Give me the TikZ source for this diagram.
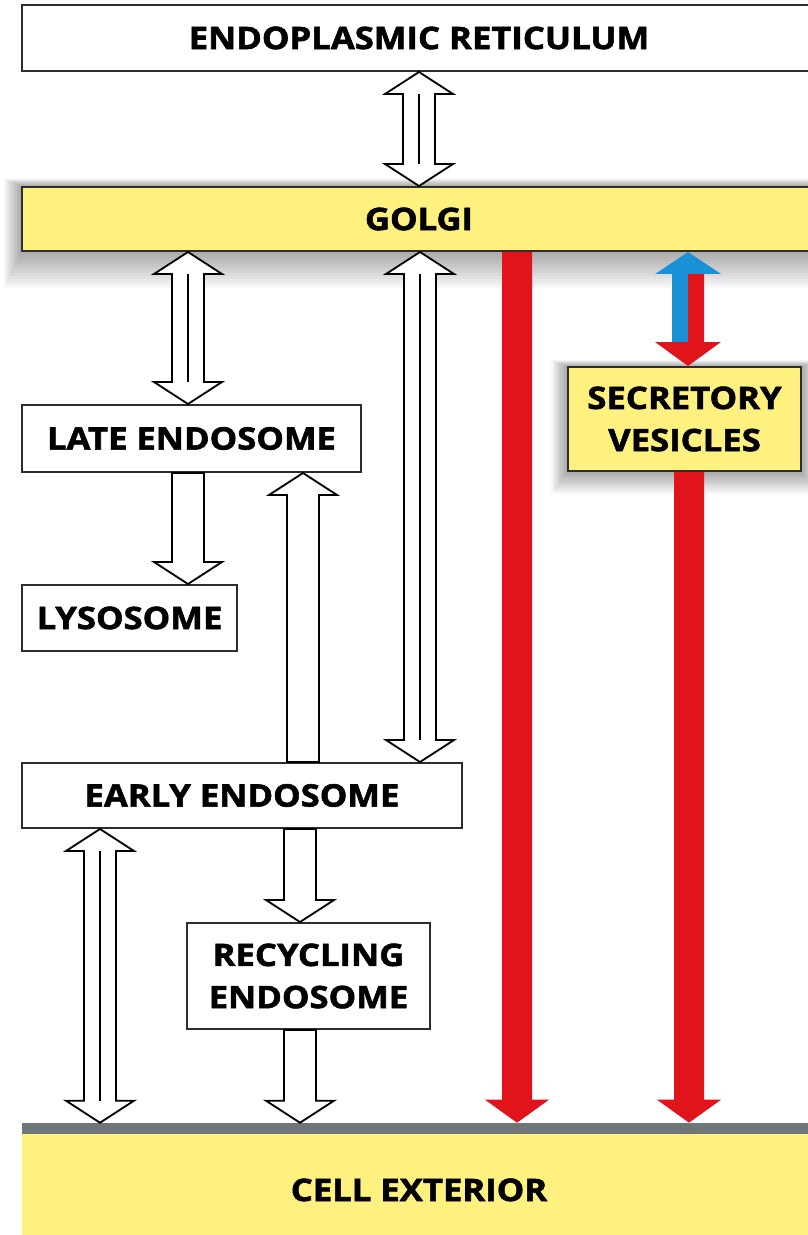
\documentclass[tikz,border=0pt]{standalone}
\usepackage{fontspec}
\setmainfont{Open Sans}[FakeStretch=1.12, BoldFeatures={FakeBold=1.8}]
\usetikzlibrary{positioning, calc, backgrounds}
\definecolor{cellYellow}{RGB}{255, 241, 128}
\definecolor{cellRed}{RGB}{226, 20, 27}
\definecolor{cellBlue}{RGB}{25, 145, 215}
\definecolor{cellGray}{RGB}{110, 118, 120}
\definecolor{cellLine}{RGB}{45, 45, 45}

% hollow block arrows, tip and tail given as coordinates
\newcommand{\blkUp}[2]{%
  \filldraw[hollow] #1 -- ($#1+(34,22)$) -- ($#1+(16,22)$) -- ($#2+(16,0)$)
    -- ($#2+(-16,0)$) -- ($#1+(-16,22)$) -- ($#1+(-34,22)$) -- cycle;}
\newcommand{\blkDown}[2]{%
  \filldraw[hollow] ($#1+(-16,0)$) -- ($#1+(16,0)$) -- ($#2+(16,-22)$)
    -- ($#2+(34,-22)$) -- #2 -- ($#2+(-34,-22)$) -- ($#2+(-16,-22)$) -- cycle;}
\newcommand{\blkBoth}[2]{%
  \filldraw[hollow] #1 -- ($#1+(34,22)$) -- ($#1+(16,22)$) -- ($#2+(16,-22)$)
    -- ($#2+(34,-22)$) -- #2 -- ($#2+(-34,-22)$) -- ($#2+(-16,-22)$)
    -- ($#1+(-16,22)$) -- ($#1+(-34,22)$) -- cycle;
  \draw[hollow] ($#1+(0,22)$) -- ($#2+(0,-22)$);}
% solid red export arrow
\newcommand{\redDown}[2]{%
  \fill[cellRed] ($#1+(-15,0)$) -- ($#1+(15,0)$) -- ($#2+(15,-23)$)
    -- ($#2+(32,-23)$) -- #2 -- ($#2+(-32,-23)$) -- ($#2+(-15,-23)$) -- cycle;}

\begin{document}
\begin{tikzpicture}[x=0.025cm, y=-0.025cm,
    every node/.style={font=\fontsize{22}{30}\selectfont\bfseries},
    box/.style={draw=cellLine, line width=1.4pt, fill=white, align=center, inner sep=0pt},
    ybox/.style={box, fill=cellYellow},
    hollow/.style={draw=black, line width=1.3pt, fill=white, line join=miter}]
  \useasboundingbox (0,0) rectangle (808,1235);

  \node[box,  minimum width=19.85cm, minimum height=1.65cm]  (er)     at (419,38)     {ENDOPLASMIC RETICULUM};
  \node[ybox, minimum width=19.85cm, minimum height=1.6cm]   (golgi)  at (419,219)    {GOLGI};
  \node[box,  minimum width=8.475cm, minimum height=1.675cm] (late)   at (191.5,438.5) {LATE ENDOSOME};
  \node[box,  minimum width=5.375cm, minimum height=1.65cm]  (lyso)   at (129.5,618)  {LYSOSOME};
  \node[box,  minimum width=11cm,    minimum height=1.625cm] (early)  at (242,795.5)  {EARLY ENDOSOME};
  \node[box,  minimum width=6.075cm, minimum height=2.65cm]  (recyc)  at (308.5,976)  {RECYCLING\\ENDOSOME};
  \node[ybox, minimum width=5.825cm, minimum height=2.6cm]   (secret) at (684.5,419)  {SECRETORY\\VESICLES};
  \node[fill=cellGray, inner sep=0pt, minimum width=19.85cm, minimum height=0.275cm] (memb) at (419,1128.5) {};
  \node[fill=cellYellow, inner sep=0pt, minimum width=19.85cm, minimum height=2.55cm] (ext) at (419,1185)
    {\raisebox{-3.5pt}[\height][\depth]{CELL EXTERIOR}};

  % soft shadows
  \begin{scope}[on background layer]
    \foreach \s in {1,...,12} {
      \fill[black, opacity=0.03] ($(golgi.north west)+(-\s*1.4,-\s*0.6)$) rectangle ($(golgi.south east)+(\s*1.4,\s*3)$);
      \fill[black, opacity=0.03] ($(secret.north west)+(-\s*1.3,-\s*0.5)$) rectangle ($(secret.south east)+(\s*1.3,\s*1.8)$);
    }
  \end{scope}

  % membrane traffic
  \blkBoth{(er.south)}{(golgi.north)}
  \blkBoth{(188,0 |- golgi.south)}{(188,0 |- late.north)}
  \blkBoth{(420,0 |- golgi.south)}{(420,0 |- early.north)}
  \blkDown{(188,0 |- late.south)}{(188,0 |- lyso.north)}
  \blkUp{(303,0 |- late.south)}{(303,0 |- early.north)}
  \blkBoth{(100,0 |- early.south)}{(100,0 |- memb.north)}
  \blkDown{(300,0 |- early.south)}{(300,0 |- recyc.north)}
  \blkDown{(300,0 |- recyc.south)}{(300,0 |- memb.north)}

  % secretion
  \redDown{(517,0 |- golgi.south)}{(517,0 |- memb.north)}
  \redDown{(689,0 |- secret.south)}{(689,0 |- memb.north)}
  \fill[cellBlue] (688,0 |- golgi.south) -- ($(688,0 |- golgi.south)+(33,22)$) -- ($(688,0 |- golgi.south)+(0,22)$)
    -- ($(688,0 |- secret.north)+(0,-24)$) -- ($(688,0 |- secret.north)+(-16,-24)$)
    -- ($(688,0 |- golgi.south)+(-16,22)$) -- ($(688,0 |- golgi.south)+(-33,22)$) -- cycle;
  \fill[cellRed] ($(688,0 |- golgi.south)+(0,22)$) -- ($(688,0 |- golgi.south)+(16,22)$)
    -- ($(688,0 |- secret.north)+(16,-24)$) -- ($(688,0 |- secret.north)+(33,-24)$) -- (688,0 |- secret.north)
    -- ($(688,0 |- secret.north)+(-33,-24)$) -- ($(688,0 |- secret.north)+(0,-24)$) -- cycle;
\end{tikzpicture}
\end{document}
